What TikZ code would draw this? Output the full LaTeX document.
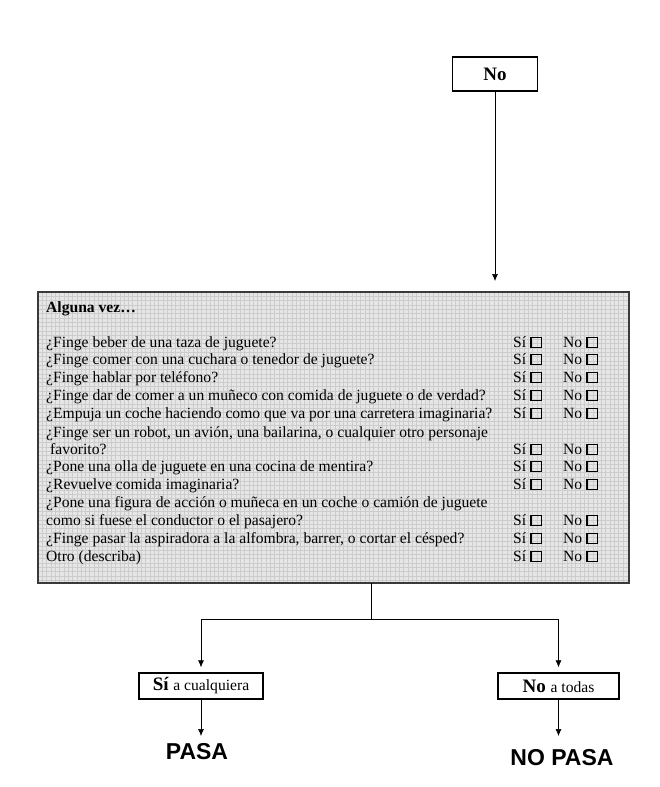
\documentclass[tikz,border=0pt]{standalone}
\usepackage{fontspec}
\setmainfont{Liberation Serif}
\newfontfamily\letrasans{Liberation Sans}
\usetikzlibrary{positioning,arrows.meta}

\definecolor{fondogris}{HTML}{E6E6E6}
\definecolor{rejilla}{HTML}{CCCCCC}
\definecolor{borde}{HTML}{3A3A3A}

% casilla de respuesta
\newcommand{\casilla}{{\setlength{\fboxsep}{0pt}\setlength{\fboxrule}{1.4pt}\fbox{\rule{0pt}{9pt}\rule{9pt}{0pt}}}}

\tikzset{
    caja/.style={draw, line width=1.4pt, minimum height=26pt, inner xsep=6pt},
    flecha/.style={-{Latex[length=7pt,width=6pt]}, line width=0.6pt},
    texto/.style={anchor=base west, inner sep=0pt, font=\fontsize{15.6}{18}\selectfont},
    resultado/.style={font=\letrasans\bfseries\fontsize{23}{26}\selectfont}
}

\begin{document}
\begin{tikzpicture}[x=1pt, y=-1pt]
    \useasboundingbox (0,0) rectangle (659,787);

    % caja de arriba
    \node[caja, font=\bfseries\fontsize{19}{22}\selectfont, minimum width=85pt, minimum height=34pt] (no) at (495, 74) {No};

    % recuadro con rejilla
    \fill[fondogris] (38,292) rectangle (629,583);
    \foreach \gx in {42.3,46.6,...,627}
        \draw[rejilla, line width=0.3pt] (\gx,292) -- (\gx,583);
    \foreach \gy in {296.3,300.6,...,581}
        \draw[rejilla, line width=0.3pt] (38,\gy) -- (629,\gy);
    \draw[borde, line width=1.2pt] (38,292) rectangle (629,583);
    \coordinate (entrada) at (495, 281);
    \coordinate (salida) at (371, 583);

    \node[texto, font=\bfseries\fontsize{15.6}{18}\selectfont] (titulo) at (46, 312) {Alguna vez\ldots};

    \node[texto] (p1) at (46, 347) {¿Finge beber de una taza de juguete?};
    \node[texto] (p2) at (46, 364) {¿Finge comer con una cuchara o tenedor de juguete?};
    \node[texto] (p3) at (46, 382) {¿Finge hablar por teléfono?};
    \node[texto] (p4) at (46, 400) {¿Finge dar de comer a un muñeco con comida de juguete o de verdad?};
    \node[texto] (p5) at (46, 418) {¿Empuja un coche haciendo como que va por una carretera imaginaria?};
    \node[texto] (p6) at (46, 437) {¿Finge ser un robot, un avión, una bailarina, o cualquier otro personaje};
    \node[texto] (p6b) at (50, 454) {favorito?};
    \node[texto] (p7) at (46, 471) {¿Pone una olla de juguete en una cocina de mentira?};
    \node[texto] (p8) at (46, 489) {¿Revuelve comida imaginaria?};
    \node[texto] (p9) at (46, 507) {¿Pone una figura de acción o muñeca en un coche o camión de juguete};
    \node[texto] (p9b) at (46, 525) {como si fuese el conductor o el pasajero?};
    \node[texto] (p10) at (46, 543) {¿Finge pasar la aspiradora a la alfombra, barrer, o cortar el césped?};
    \node[texto] (p11) at (46, 561) {Otro (describa)};

    \foreach \fila/\y in {1/347, 2/364, 3/382, 4/400, 5/418, 6/454, 7/471, 8/489, 9/525, 10/543, 11/561} {
        \node[texto] (si\fila) at (513, \y) {Sí \casilla};
        \node[texto] (no\fila) at (563, \y) {No \casilla};
    }

    % salidas
    \node[caja, minimum width=124pt] (cualquiera) at (201, 686) {\fontsize{19}{22}\selectfont\bfseries Sí \fontsize{15.6}{18}\mdseries a cualquiera};
    \node[caja, minimum width=121pt] (todas) at (558.5, 686) {\fontsize{19}{22}\selectfont\bfseries No \fontsize{15.6}{18}\mdseries a todas};

    \node[resultado] (pasa) at (197, 752) {PASA};
    \node[resultado] (nopasa) at (562, 758) {NO PASA};

    \draw[flecha] (no) -- (entrada);
    \draw[flecha, shorten >=5pt] (salida) -- ++(0,36) -| (cualquiera);
    \draw[flecha, shorten >=5pt] (salida) -- ++(0,36) -| (todas);
    \draw[flecha] (cualquiera) -- (201, 736);
    \draw[flecha] (todas) -- (558.5, 736);
\end{tikzpicture}
\end{document}
